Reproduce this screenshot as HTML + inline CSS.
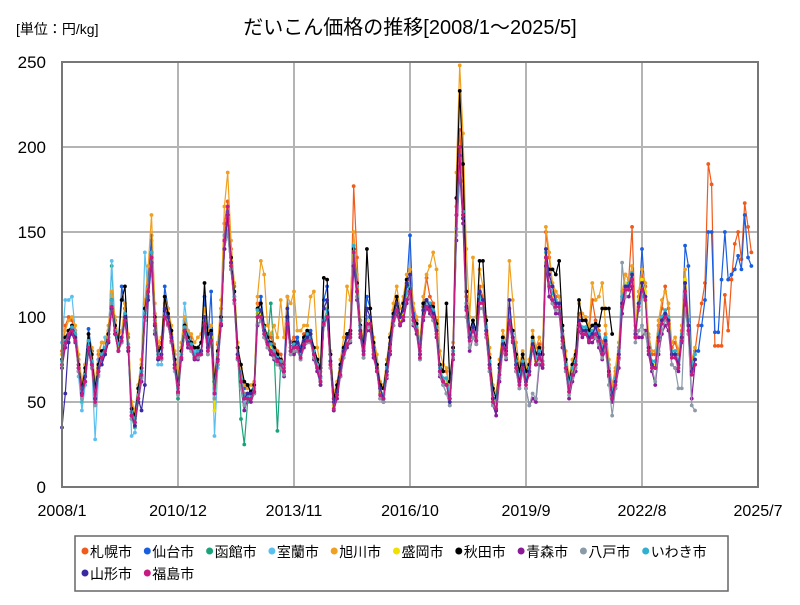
<!DOCTYPE html>
<html><head><meta charset="utf-8"><style>
body{margin:0;background:#fff;}
svg text{font-family:"Liberation Sans","Noto Sans CJK JP",sans-serif;}
</style></head><body>
<svg id="chart" width="800" height="600" xmlns="http://www.w3.org/2000/svg">
<rect width="800" height="600" fill="#fff"/>
<text x="16" y="34" font-size="14" fill="#000">[単位：円/kg]</text>
<text x="410" y="34" font-size="20" text-anchor="middle" fill="#000">だいこん価格の推移[2008/1～2025/5]</text>
<g id="grid"></g>
<g id="series"></g>
<rect x="62" y="62" width="696" height="425" fill="none" stroke="#777" stroke-width="2"/>
<g id="axes"></g>
<rect x="75" y="536" width="653" height="55" fill="#fff" stroke="#666" stroke-width="1.5"/>
<g id="legend"></g>
</svg>
<script>
const names=["札幌市","仙台市","函館市","室蘭市","旭川市","盛岡市","秋田市","青森市","八戸市","いわき市","山形市","福島市"];
const colors=["#f05a1a","#1a5ee0","#1aa37a","#5bc0f0","#f0a020","#f0e000","#000000","#8a1a9a","#8a9aa8","#30b0d0","#3a2aa0","#c81a80"];
const yTicks=[0,50,100,150,200,250];
const xTickLabels=["2008/1","2010/12","2013/11","2016/10","2019/9","2022/8","2025/7"];
const xTickMonths=[0,35,70,105,140,175,210];
const sapporo=[80,95,100,98,92,75,62,70,85,80,60,78,85,85,92,112,98,88,92,100,88,48,42,58,72,108,125,145,102,82,85,108,98,88,78,62,82,95,90,88,78,82,85,98,88,92,62,84,105,155,168,140,118,82,62,55,52,56,60,108,108,92,90,88,84,80,78,72,98,85,88,82,82,90,92,88,82,75,68,98,102,78,52,60,72,82,90,92,177,135,92,82,98,98,80,72,60,58,72,88,104,112,98,108,118,122,105,98,82,108,123,112,108,98,72,68,68,58,82,165,210,180,112,92,98,92,118,112,98,78,58,52,72,88,82,105,92,78,68,78,68,72,88,78,84,78,150,135,118,112,112,92,75,62,72,78,102,98,98,92,110,98,92,85,90,72,58,68,82,112,125,122,153,95,112,125,118,88,78,78,95,105,118,105,82,85,78,92,122,98,72,80,95,108,120,190,178,83,83,83,113,92,122,143,150,134,167,153,138];
const sendai=[70,85,90,92,88,70,60,72,93,80,58,75,78,80,88,108,92,82,118,105,80,44,38,52,68,102,118,148,98,78,82,118,105,92,72,58,78,98,92,82,80,78,80,112,85,115,60,78,98,145,162,132,112,78,68,58,60,55,58,100,112,95,85,80,80,75,72,70,112,80,82,88,82,88,90,92,80,72,65,110,118,72,48,55,68,82,90,92,135,118,98,82,112,105,84,72,58,52,68,85,102,108,100,105,118,148,102,96,78,106,110,108,103,92,68,62,62,52,78,150,190,160,108,88,96,88,112,110,92,72,50,45,68,85,82,98,88,72,62,72,62,68,82,72,78,72,135,120,112,108,108,88,70,58,68,72,98,92,92,88,90,95,88,80,86,68,55,62,78,108,118,118,125,90,108,140,112,82,72,70,88,98,102,98,78,78,72,88,142,130,72,80,80,95,110,150,150,91,91,122,150,122,125,128,136,128,160,135,130];
const hakodate=[72,85,90,92,88,68,50,62,82,70,48,68,75,80,88,130,92,80,85,100,80,40,35,50,65,100,115,135,95,75,78,100,95,85,70,52,75,90,85,82,75,78,80,95,80,88,52,75,95,140,155,130,110,78,40,25,50,52,55,100,102,90,85,108,80,33,72,68,95,80,82,82,78,85,88,85,78,68,60,95,100,72,45,55,65,78,85,88,140,115,90,78,95,95,78,68,55,52,68,82,98,105,95,100,110,115,98,92,78,100,108,105,100,92,68,62,62,52,78,150,190,160,105,88,92,88,110,108,92,72,52,48,68,82,78,98,88,72,62,72,62,68,82,72,78,72,135,118,112,108,108,88,70,58,68,72,98,92,92,88,90,92,88,80,86,68,52,62,78,108,118,118,125,90,108,120,112,82,72,72,88,98,102,98,78,78,72,88,120,95,68,75];
const muroran=[85,110,110,112,92,65,45,60,80,72,28,65,78,88,88,133,95,80,85,98,82,30,32,60,75,138,112,128,95,72,72,100,100,90,68,55,82,108,92,85,80,82,80,92,80,95,30,70,95,140,150,128,108,75,62,50,55,55,56,102,100,92,85,80,78,75,72,68,95,80,82,82,78,85,88,88,78,70,62,95,100,72,45,55,68,78,85,88,135,115,92,78,98,98,80,70,56,52,68,82,98,105,98,102,112,115,98,92,78,100,108,105,100,92,68,62,62,52,78,150,185,160,105,88,92,88,110,108,92,72,52,48,68,82,78,98,88,72,62,72,62,68,82,72,78,72,135,118,112,108,108,88,70,58,68,72,98,92,92,88,90,92,88,80,86,68,52,62,78,108,118,118,125,90,108,118,112,82,72,72,88,98,102,98,78,78,72,88,120,95,68,75];
const asahikawa=[78,92,98,100,95,78,62,72,85,82,60,80,85,85,95,115,100,88,92,108,90,50,45,60,75,110,130,160,108,85,88,112,105,95,80,65,85,100,92,90,85,88,90,105,92,95,65,85,110,165,185,145,120,85,70,60,58,60,62,112,133,125,95,90,95,88,110,88,112,108,115,92,92,95,95,112,115,82,72,105,105,80,55,62,75,88,118,110,150,125,98,85,105,105,88,78,62,60,75,90,108,118,105,112,125,128,108,100,85,112,125,130,138,128,80,72,70,58,85,185,248,208,140,100,135,100,128,118,100,82,60,55,75,92,85,133,110,85,72,80,70,75,92,82,88,82,153,138,120,115,112,95,80,65,75,80,108,102,100,95,120,110,112,120,95,75,60,70,85,115,125,122,130,95,115,128,120,90,80,80,98,110,115,108,85,88,80,95,128,100,75,82];
const morioka=[72,85,88,92,88,70,55,65,82,72,52,70,78,80,88,108,92,82,88,100,82,44,40,52,68,100,118,135,98,78,78,100,98,88,72,58,78,92,85,82,78,78,80,98,82,88,45,78,98,145,155,130,112,78,62,52,52,52,56,102,102,92,86,82,80,76,72,68,98,80,82,82,78,86,88,88,78,70,62,98,102,72,48,56,68,80,86,88,140,118,92,80,98,98,80,70,56,54,68,82,100,108,98,102,112,118,100,94,78,102,110,106,102,94,70,64,62,54,80,150,195,162,108,88,94,88,112,110,94,72,54,48,68,84,80,100,88,74,64,74,64,70,84,74,78,74,138,120,112,108,108,88,72,58,68,74,98,94,94,90,92,94,90,80,86,70,55,64,80,110,120,118,125,92,110,122,115,84,72,72,90,100,104,100,80,80,72,90,122,96,70,78];
const akita=[75,88,92,95,90,72,58,70,90,78,58,72,80,82,90,110,95,85,110,118,82,46,42,58,70,105,118,138,100,80,82,112,102,92,75,60,80,95,88,85,82,82,85,120,90,92,62,80,100,145,158,135,115,82,72,62,60,56,60,105,108,95,88,85,82,78,75,70,100,82,85,85,80,88,92,90,82,75,70,123,122,78,52,60,72,82,90,92,140,120,95,82,140,105,85,72,60,58,72,88,102,112,100,108,122,115,100,96,80,108,110,108,106,96,72,68,108,62,82,170,233,190,115,92,98,92,133,133,98,76,58,52,72,88,82,98,92,78,68,78,68,72,88,78,82,78,130,128,128,125,133,95,75,62,72,78,110,98,98,92,95,96,95,105,105,105,90];
const aomori=[70,82,88,90,85,68,55,62,80,70,52,68,75,78,85,105,90,80,85,98,80,42,38,50,62,98,112,132,90,75,75,100,95,85,70,55,75,90,82,80,75,75,78,95,78,85,55,72,95,140,150,128,108,75,58,45,52,50,55,95,98,88,82,78,75,72,70,65,95,78,78,80,75,82,85,85,75,68,60,95,100,70,45,52,65,76,82,85,130,110,88,76,92,92,76,68,52,50,64,78,95,102,95,98,108,112,95,90,75,98,105,102,98,88,65,60,55,48,75,145,185,155,100,80,88,84,105,105,88,68,48,42,62,80,75,95,85,68,58,68,58,48,52,50,72,70,130,112,108,102,102,82,68,52,62,68,92,88,90,85,85,88,82,75,80,65,50,58,70,102,112,112,118,88,88,88,92,78,68,60,78,90,95,92,72,70,68,85,110,90,52,72];
const hachinohe=[72,85,90,92,86,68,52,62,80,70,48,66,76,78,86,108,90,80,85,98,80,40,36,52,64,98,112,135,92,75,75,100,95,85,70,54,76,90,84,80,76,76,78,95,78,85,52,72,95,140,150,128,108,75,58,48,52,52,55,96,98,88,82,80,76,72,70,66,95,78,80,80,75,84,85,85,76,70,62,95,100,70,46,55,65,76,84,86,132,112,90,76,94,94,78,68,52,50,65,80,95,104,96,100,110,112,96,92,75,100,106,104,98,90,66,60,55,48,76,148,190,158,100,82,88,84,105,105,88,68,48,45,64,80,76,96,86,68,58,68,58,48,55,52,75,72,132,120,108,104,104,84,68,54,64,70,94,90,90,86,88,88,84,76,82,60,42,58,75,132,112,120,122,85,92,95,90,80,70,62,80,92,98,95,72,70,58,58,105,90,48,45];
const iwaki=[74,86,90,94,90,70,56,66,86,74,54,70,78,82,88,110,92,84,88,102,84,44,40,54,68,102,118,138,98,78,78,102,98,88,72,58,78,94,86,84,78,80,80,98,84,90,58,78,98,148,158,132,112,78,64,54,54,54,58,104,104,94,86,84,80,76,74,70,98,82,84,84,78,86,90,88,80,72,64,98,104,74,50,56,70,80,88,90,142,118,94,80,100,100,82,70,58,54,70,84,100,108,100,104,114,120,100,94,80,104,110,108,104,94,70,64,64,54,80,152,195,162,108,90,94,90,112,110,94,74,54,50,70,86,80,100,90,74,64,74,64,70,86,76,80,74,138,120,114,110,108,90,72,60,70,74,98,94,94,90,92,94,90,82,88,70,56,64,80,112,118,120,126,92,104,112,110,84,74,74,90,100,104,100,80,80,74,90,120,98,72,78];
const yamagata=[35,55,85,92,88,70,55,65,80,72,52,70,72,78,85,105,90,80,88,100,80,42,36,52,45,60,110,135,95,75,78,105,100,88,72,56,76,92,85,82,76,78,80,100,82,90,55,75,95,140,160,132,110,78,62,52,55,55,56,100,104,92,85,80,78,75,72,68,105,80,82,85,80,86,88,90,78,70,62,105,110,74,50,56,70,80,88,90,130,115,92,80,105,100,82,70,58,52,68,84,100,108,100,104,120,125,100,92,78,104,110,106,102,92,68,62,60,50,78,160,195,158,106,88,94,86,115,110,92,72,52,45,70,84,80,110,88,72,62,72,62,68,84,72,78,72,140,125,118,108,108,88,70,56,66,72,98,92,92,88,90,94,88,80,86,68,54,62,78,108,118,118,125,90,108,120,112,82,72,70,88,98,102,98,78,78,72,88,120,95,68,75];
const fukushima=[72,85,90,92,86,70,54,62,82,72,50,68,76,80,86,106,90,80,86,98,82,42,38,52,66,100,115,135,96,76,76,100,96,86,70,56,76,92,84,82,76,78,78,96,80,86,55,74,96,145,165,130,110,76,62,52,52,52,56,100,100,90,84,80,78,74,72,68,96,80,82,82,76,84,86,86,78,70,62,96,100,72,46,54,66,78,84,88,138,115,90,78,96,96,78,68,54,52,66,80,98,104,96,100,110,115,98,92,76,100,106,104,100,90,68,62,60,52,78,160,200,160,104,86,92,86,108,108,90,70,50,46,66,82,78,98,86,70,60,70,60,66,82,72,76,72,135,118,110,106,106,86,70,56,66,72,96,90,90,86,88,90,86,78,84,66,52,60,76,106,116,116,122,88,106,116,110,80,70,70,86,96,100,96,76,76,70,86,115,92,66,72];
const seriesData=[sapporo,sendai,hakodate,muroran,asahikawa,morioka,akita,aomori,hachinohe,iwaki,yamagata,fukushima];

const NS="http://www.w3.org/2000/svg";
const X0=62,X1=758,Y0=487,Y1=62,MMAX=210,VMAX=250;
const xs=m=>X0+(X1-X0)*m/MMAX;
const ys=v=>Y0-(Y0-Y1)*v/VMAX;
function mk(tag,attrs,parent){const e=document.createElementNS(NS,tag);for(const k in attrs)e.setAttribute(k,attrs[k]);parent.appendChild(e);return e;}
const grid=document.getElementById('grid'),axes=document.getElementById('axes'),ser=document.getElementById('series'),leg=document.getElementById('legend');
yTicks.forEach(v=>{
  const l=mk('line',{x1:X0,x2:X1,y1:ys(v),y2:ys(v),stroke:'#b4b4b4','stroke-width':2},grid);
  
  
  const t=mk('text',{x:46,y:ys(v)+6,'font-size':17,'text-anchor':'end',fill:'#000'},axes);
  t.textContent=v;
  
  
});
xTickMonths.forEach((m,i)=>{
  const l=mk('line',{x1:xs(m),x2:xs(m),y1:Y1,y2:Y0,stroke:'#b4b4b4','stroke-width':2},grid);
  
  
  const t=mk('text',{x:xs(m),y:516,'font-size':16,'text-anchor':'middle',fill:'#000'},axes);
  t.textContent=xTickLabels[i];
  
  
});
seriesData.forEach((d,i)=>{
  const g=mk('g',{},ser);
  
  
  const pts=d.map((v,m)=>xs(m).toFixed(1)+','+ys(v).toFixed(1)).join(' ');
  const pl=mk('polyline',{points:pts,fill:'none',stroke:colors[i],'stroke-width':1.2},g);
  
  
  d.forEach((v,m)=>{
    const c=mk('circle',{cx:xs(m),cy:ys(v),r:1.9,fill:colors[i]},g);
    
    
  });
});
names.forEach((n,i)=>{
  const row=i<10?0:1,col=i<10?i:i-10;
  const x=80+col*62.3,y=row?574:552;
  const g=mk('g',{},leg);
  
  
  mk('circle',{cx:x+5,cy:y-1,r:3.5,fill:colors[i]},g);
  const t=mk('text',{x:x+10,y:y+5,'font-size':14,fill:'#000'},g);
  t.textContent=n;
});
</script>
</body></html>
